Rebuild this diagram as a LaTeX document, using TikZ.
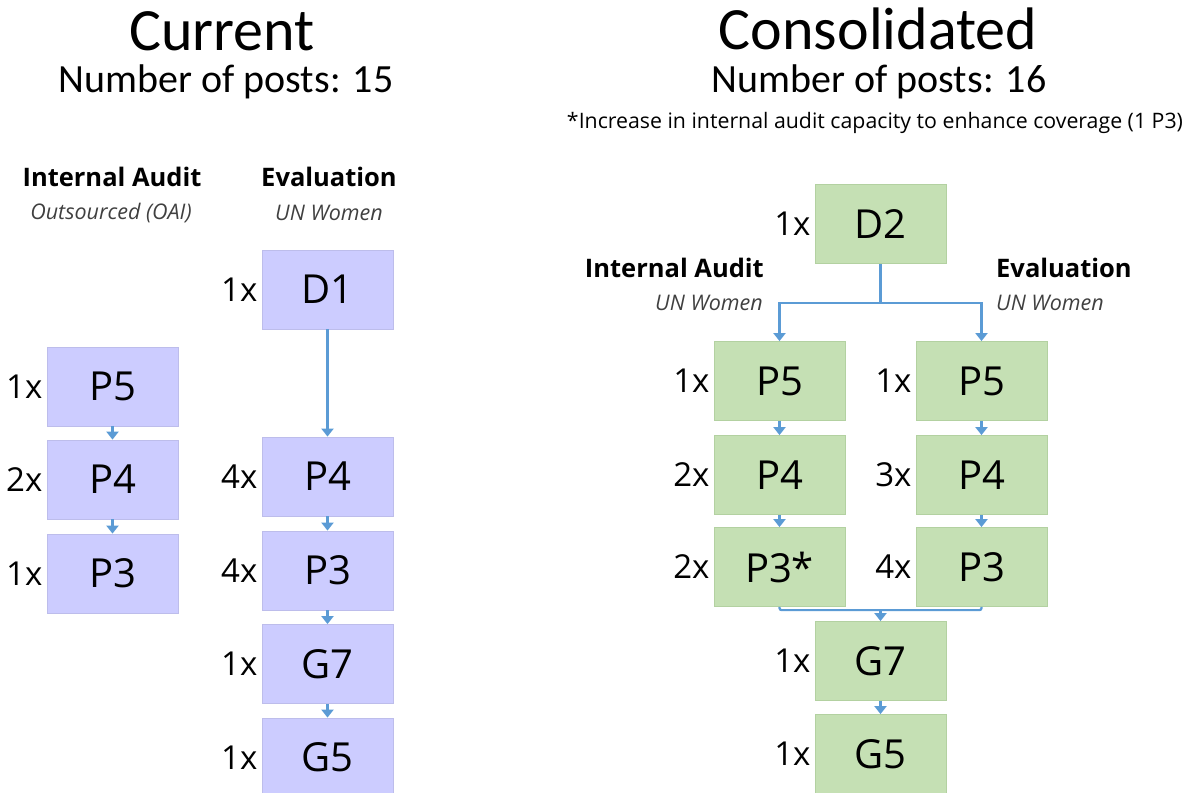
\documentclass[tikz,border=0pt]{standalone}
\usepackage{fontspec}
\setmainfont{Carlito}
\newfontfamily\boxfont{Open Sans}
\usetikzlibrary{arrows.meta}
\definecolor{pfill}{HTML}{CCCCFF}
\definecolor{pedge}{HTML}{BDBDEB}
\definecolor{gfill}{HTML}{C5E0B4}
\definecolor{gedge}{HTML}{B3D1A1}
\definecolor{ablue}{HTML}{5B9BD5}
\definecolor{subgray}{HTML}{404040}
\tikzset{
  pbox/.style={draw=pedge, line width=0.8pt, fill=pfill, minimum width=131pt, minimum height=79pt, inner sep=0pt, font=\boxfont\fontsize{40}{48}\selectfont},
  gbox/.style={draw=gedge, line width=0.8pt, fill=gfill, minimum width=131pt, minimum height=79pt, inner sep=0pt, font=\boxfont\fontsize{40}{48}\selectfont},
  mult/.style={anchor=east, inner sep=0pt, font=\boxfont\fontsize{33}{40}\selectfont},
  arr/.style={draw=ablue, line width=2.2pt, -{Triangle[width=12pt,length=8pt]}},
  conn/.style={draw=ablue, line width=2.2pt},
  head/.style={inner sep=0pt, font=\boxfont\bfseries\fontsize{25.5}{30}\selectfont},
  sub/.style={inner sep=0pt, text=subgray, font=\boxfont\itshape\fontsize{21.5}{25}\selectfont},
  bigtitle/.style={inner sep=0pt, anchor=base, font=\fontsize{60}{70}\selectfont},
  subtitle/.style={inner sep=0pt, anchor=base, font=\fontsize{40}{48}\selectfont},
}
\begin{document}
\begin{tikzpicture}[x=1pt,y=-1pt]
\useasboundingbox (0,0) rectangle (1190,792);
\clip (0,0) rectangle (1190,792);
% titles
\node[bigtitle] (tcur) at (222,51) {Current};
\node[subtitle] (ncur) at (226,92) {Number of posts: 15};
\node[bigtitle] (tcon) at (878,50) {Consolidated};
\node[subtitle] (ncon) at (879,92) {Number of posts: 16};
\node[inner sep=0pt, font=\boxfont\fontsize{21.3}{25}\selectfont] (foot) at (875,123) {*Increase in internal audit capacity to enhance coverage (1 P3)};
% left headers
\node[head] (hia) at (112,177) {Internal Audit};
\node[sub] (sia) at (111,213) {Outsourced (OAI)};
\node[head] (hev) at (329,177) {Evaluation};
\node[sub] (sev) at (329,213) {UN Women};
% left IA column
\node[pbox] (lia5) at (112.5,386.5) {P5};
\node[pbox] (lia4) at (112.5,479.5) {P4};
\node[pbox] (lia3) at (112.5,573.5) {P3};
\node[mult] (mlia5) at ([xshift=-4pt]lia5.west) {1x};
\node[mult] (mlia4) at ([xshift=-4pt]lia4.west) {2x};
\node[mult] (mlia3) at ([xshift=-4pt]lia3.west) {1x};
\draw[arr] (lia5.south) -- (lia4.north);
\draw[arr] (lia4.south) -- (lia3.north);
% left Eval column
\node[pbox] (lev1) at (327.5,289.5) {D1};
\node[pbox] (lev4) at (327.5,476.5) {P4};
\node[pbox] (lev3) at (327.5,570.5) {P3};
\node[pbox] (lev7) at (327.5,664) {G7};
\node[pbox] (lev5) at (327.5,757.5) {G5};
\node[mult] (mlev1) at ([xshift=-4pt]lev1.west) {1x};
\node[mult] (mlev4) at ([xshift=-4pt]lev4.west) {4x};
\node[mult] (mlev3) at ([xshift=-4pt]lev3.west) {4x};
\node[mult] (mlev7) at ([xshift=-4pt]lev7.west) {1x};
\node[mult] (mlev5) at ([xshift=-4pt]lev5.west) {1x};
\draw[arr] (lev1.south) -- (lev4.north);
\draw[arr] (lev4.south) -- (lev3.north);
\draw[arr] (lev3.south) -- (lev7.north);
\draw[arr] (lev7.south) -- (lev5.north);
% right side
\node[gbox] (rd2) at (880.5,224) {D2};
\node[mult] (mrd2) at ([xshift=-4pt]rd2.west) {1x};
\node[head, anchor=east] (rhia) at (764,268) {Internal Audit};
\node[sub, anchor=east] (rsia) at (763,303) {UN Women};
\node[head, anchor=west] (rhev) at (996,268) {Evaluation};
\node[sub, anchor=west] (rsev) at (996,303) {UN Women};
\node[gbox] (ria5) at (779.5,381) {P5};
\node[gbox] (ria4) at (779.5,475) {P4};
\node[gbox] (ria3) at (779.5,567) {P3*};
\node[gbox] (rev5) at (981.5,381) {P5};
\node[gbox] (rev4) at (981.5,475) {P4};
\node[gbox] (rev3) at (981.5,567) {P3};
\node[gbox] (rg7) at (880.5,661) {G7};
\node[gbox] (rg5) at (880.5,754) {G5};
\node[mult] (mria5) at ([xshift=-4pt]ria5.west) {1x};
\node[mult] (mria4) at ([xshift=-4pt]ria4.west) {2x};
\node[mult] (mria3) at ([xshift=-4pt]ria3.west) {2x};
\node[mult] (mrev5) at ([xshift=-4pt]rev5.west) {1x};
\node[mult] (mrev4) at ([xshift=-4pt]rev4.west) {3x};
\node[mult] (mrev3) at ([xshift=-4pt]rev3.west) {4x};
\node[mult] (mrg7) at ([xshift=-4pt]rg7.west) {1x};
\node[mult] (mrg5) at ([xshift=-4pt]rg5.west) {1x};
\coordinate (split) at ([yshift=-39pt]rd2.south);
\draw[conn] (rd2.south) -- (split);
\draw[arr] (split) -| (ria5.north);
\draw[arr] (split) -| (rev5.north);
\draw[arr] (ria5.south) -- (ria4.north);
\draw[arr] (ria4.south) -- (ria3.north);
\draw[arr] (rev5.south) -- (rev4.north);
\draw[arr] (rev4.south) -- (rev3.north);
\coordinate (merge) at ([yshift=11pt]rg7.north);
\draw[conn, rounded corners=2pt] (ria3.south) |- (merge) -| (rev3.south);
\draw[arr] (merge) -- (rg7.north);
\draw[arr] (rg7.south) -- (rg5.north);
\end{tikzpicture}
\end{document}
